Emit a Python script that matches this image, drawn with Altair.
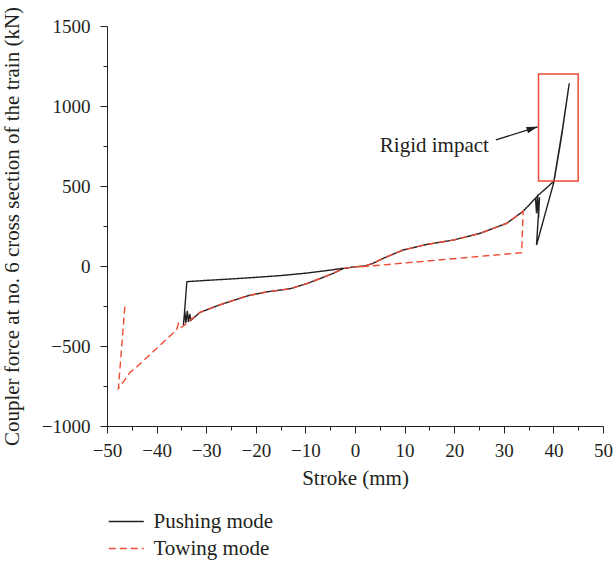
import altair as alt
import pandas as pd

# Pushing mode: upper unloading branch, drop with oscillations, S-shaped
# buffer curve, rigid impact segment and the rebound dip.
push_x = [-2.4, -5, -10, -15, -20, -25, -30, -33.9, -34.4, -34.6, -34.3, -34.1,
          -33.8, -33.6, -33.3, -33.1, -31.25, -27.2, -21.5, -17.8, -13.1, -9.7,
          -7.0, -4.4, -2.4, -0.3, 2.0, 3.5, 5.7, 9.7, 14.5, 19.8, 25.2, 30.6,
          33.9, 37.0, 38.5, 40.1, 41.8, 43.2, 41.6, 40.1, 38.3, 36.6, 37.2,
          37.0, 36.8, 36.6, 36.4]
push_y = [-14, -26, -45, -60, -71, -81, -90, -98, -300, -372, -285, -355,
          -280, -350, -300, -340, -290, -242, -185, -162, -142, -110,
          -78, -46, -16, -6, 0, 15, 48, 100, 135, 162, 204, 267,
          342, 444, 485, 531, 850, 1142, 800, 525, 322, 131, 430,
          300, 445, 330, 420]

# Towing mode
tow_x = [-46.4, -47.7, -45.2, -44.5, -36.0, -35.6, -35.2, -34.6, -31.25, -27.2,
         -21.5, -17.8, -13.1, -9.7, -7.0, -4.4, -2.4, -0.3, 2.0, 3.5, 5.7, 9.7,
         14.5, 19.8, 25.2, 30.6, 33.9, 33.6, 1.7, -0.3]
tow_y = [-254, -765, -660, -645, -400, -360, -385, -375, -290, -242,
         -185, -162, -142, -110, -78, -46, -16, -6, 0, 15, 48, 100,
         135, 162, 204, 267, 342, 83, -4, -6]

series = ["Pushing mode", "Towing mode"]
series_colors = ["#231F20", "#EE4B35"]
series_dash = [[1, 0], [7, 4]]

x_major = [-50, -40, -30, -20, -10, 0, 10, 20, 30, 40, 50]
x_minor = [-45, -35, -25, -15, -5, 5, 15, 25, 35, 45]
y_major = [-1000, -500, 0, 500, 1000, 1500]
y_minor = [-750, -250, 250, 750, 1250]

# Highlight box around the rigid impact, arrow and its note
box_x = [37.0, 45.0]
box_y = [531, 1200]
arrow_x = [28.4, 36.8]
arrow_y = [788, 870]
note_x = [5.0]
note_y = [712]
note_text = ["Rigid impact"]

FONT = "Liberation Serif"
INK = "#231F20"
RED = "#EB4A33"

rows = []
for i, (x, y) in enumerate(zip(push_x, push_y)):
    rows.append({"stroke_mm": x, "force_kN": y, "mode": series[0], "step": i})
for i, (x, y) in enumerate(zip(tow_x, tow_y)):
    rows.append({"stroke_mm": x, "force_kN": y, "mode": series[1], "step": i})
curves = pd.DataFrame(rows)

box_df = pd.DataFrame({"x0": [box_x[0]], "x1": [box_x[1]],
                       "y0": [box_y[0]], "y1": [box_y[1]]})
arrow_df = pd.DataFrame({"x0": [arrow_x[0]], "x1": [arrow_x[1]],
                         "y0": [arrow_y[0]], "y1": [arrow_y[1]]})
tip_df = pd.DataFrame({"x": [arrow_x[1]], "y": [arrow_y[1]]})
note_df = pd.DataFrame({"x": note_x, "y": note_y, "label": note_text})

xs = alt.Scale(domain=[-50, 50], nice=False, zero=False)
ys = alt.Scale(domain=[-1000, 1500], nice=False, zero=False)

lines = alt.Chart(curves).mark_line(strokeWidth=1.4, strokeCap="butt").encode(
    x=alt.X("stroke_mm:Q", scale=xs,
            axis=alt.Axis(values=x_major, title="Stroke (mm)", orient="bottom",
                          format="d", labelFlush=False, labelOverlap=False,
                          tickSize=7, labelPadding=8, titleX=248, titleY=58,
                          titleBaseline="alphabetic")),
    y=alt.Y("force_kN:Q", scale=ys,
            axis=alt.Axis(values=y_major, orient="left", format="d",
                          labelFlush=False, labelOverlap=False,
                          title="Coupler force at no. 6 cross section of the train (kN)",
                          tickSize=7, labelPadding=10, titleX=-89, titleY=200,
                          titleBaseline="alphabetic")),
    color=alt.Color("mode:N", scale=alt.Scale(domain=series, range=series_colors),
                    legend=alt.Legend(title=None)),
    strokeDash=alt.StrokeDash("mode:N", scale=alt.Scale(domain=series, range=series_dash),
                              legend=alt.Legend(title=None)),
    order="step:Q",
)

# Box also carries the minor tick axes
box = alt.Chart(box_df).mark_rect(fill="transparent", stroke=RED, strokeWidth=1.5).encode(
    x=alt.X("x0:Q", scale=xs,
            axis=alt.Axis(values=x_minor, labels=False, domain=False, tickSize=4,
                          title=None, orient="bottom")),
    x2="x1:Q",
    y=alt.Y("y0:Q", scale=ys,
            axis=alt.Axis(values=y_minor, labels=False, domain=False, tickSize=4,
                          title=None, orient="left")),
    y2="y1:Q",
)

arrow = alt.Chart(arrow_df).mark_rule(color=INK, strokeWidth=1.3).encode(
    x=alt.X("x0:Q", scale=xs, axis=None),
    x2="x1:Q",
    y=alt.Y("y0:Q", scale=ys, axis=None),
    y2="y1:Q",
)

tip = alt.Chart(tip_df).mark_point(
    shape="M0,0L-1,-0.3L-1,0.3Z", filled=True, size=484, angle=342,
    color=INK, opacity=1
).encode(
    x=alt.X("x:Q", scale=xs, axis=None),
    y=alt.Y("y:Q", scale=ys, axis=None),
)

note = alt.Chart(note_df).mark_text(
    align="left", baseline="alphabetic", font=FONT, fontSize=21, color=INK
).encode(
    x=alt.X("x:Q", scale=xs, axis=None),
    y=alt.Y("y:Q", scale=ys, axis=None),
    text="label:N",
)

chart = alt.layer(lines, box, arrow, tip, note).resolve_axis(
    x="independent", y="independent"
).properties(
    width=496, height=400,
    autosize=alt.AutoSizeParams(type="none"),
    padding={"left": 107, "top": 26, "right": 11, "bottom": 137},
).configure_view(
    stroke="transparent"
).configure_axis(
    grid=False, domainColor=INK, tickColor=INK, labelColor=INK, titleColor=INK,
    labelFont=FONT, titleFont=FONT, labelFontSize=19, titleFontSize=21,
    titleFontWeight="normal", domainWidth=1, tickWidth=1,
).configure_legend(
    orient="none", legendX=8.75, legendY=485, padding=0,
    symbolType="M-2,0H2", symbolSize=306, symbolStrokeWidth=1.4,
    labelOffset=16.75, rowPadding=5, labelFont=FONT, labelFontSize=21,
    labelColor=INK,
)

chart.save("out.html", embed_options={"renderer": "svg", "actions": False})
